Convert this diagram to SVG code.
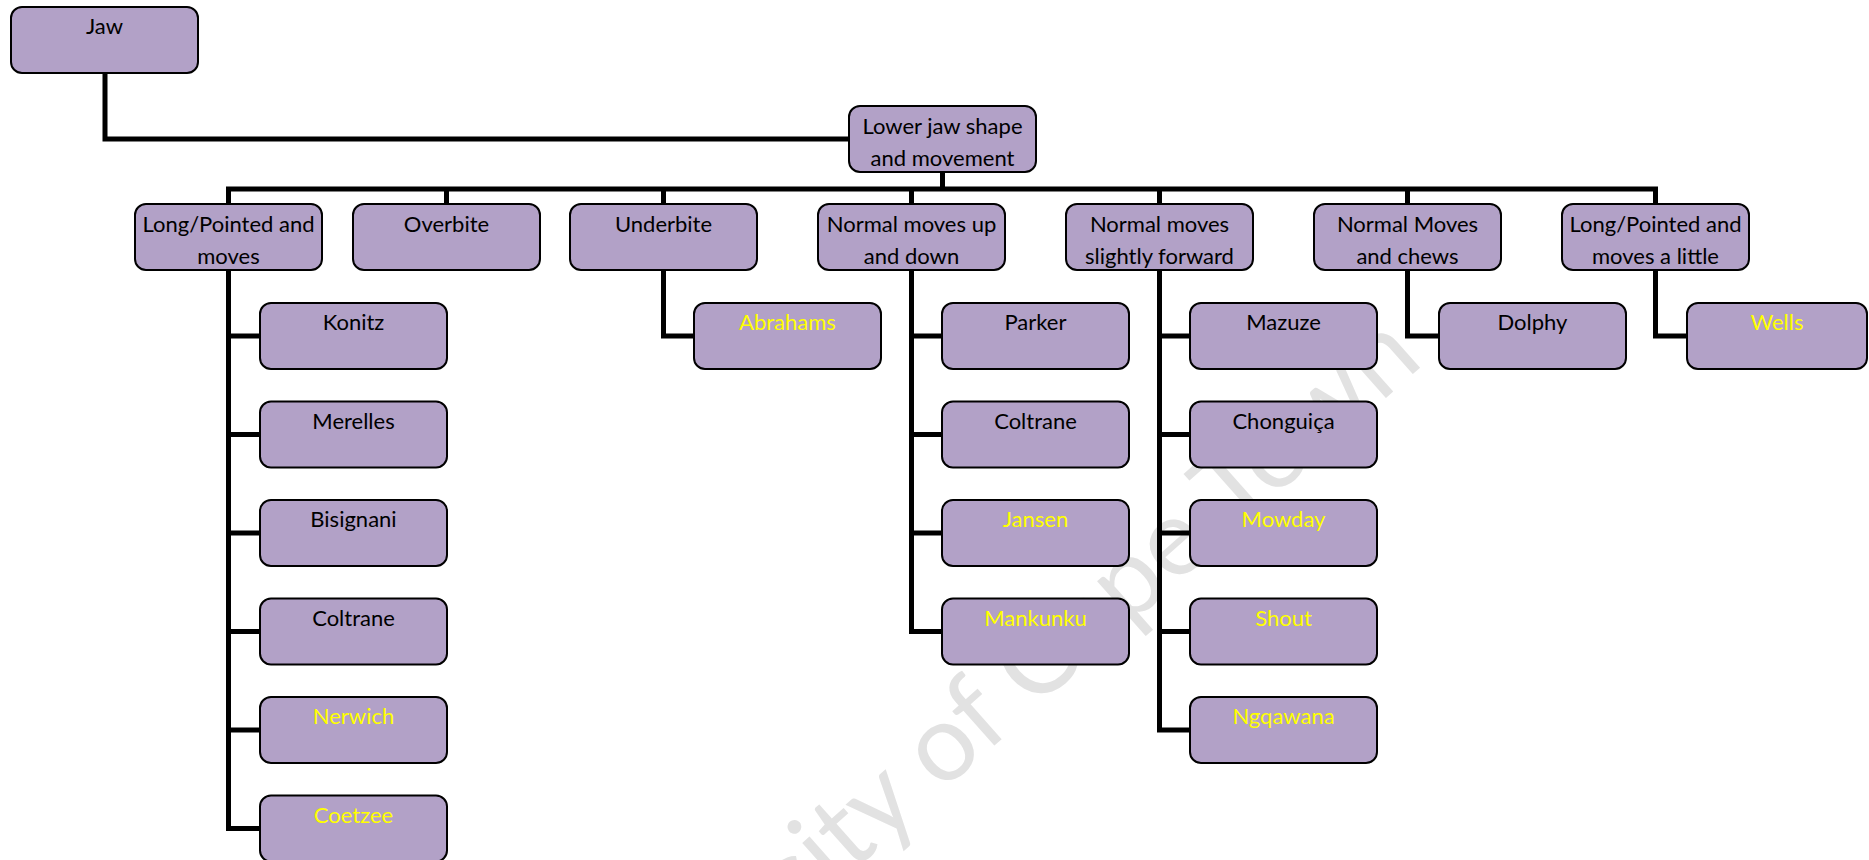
<svg xmlns="http://www.w3.org/2000/svg" width="1869" height="860" viewBox="0 0 1869 860">
<style>
.box{fill:#b2a1c7;stroke:#000;stroke-width:2}
.t{font-family:Lato,"Open Sans","Liberation Sans",sans-serif;font-size:22px;text-anchor:middle;fill:#000}
.y{fill:#ffff00}
.c{stroke:#000;stroke-width:5;fill:none;stroke-linejoin:miter}
.wm{font-family:Lato,"Open Sans",sans-serif;font-size:108px;fill:#e2e2e2;text-anchor:middle}
</style>
<defs>
<clipPath id="row1"><rect x="0" y="205" width="1869" height="64"/></clipPath>
</defs>
<rect width="1869" height="860" fill="#fff"/>
<text class="wm" transform="rotate(-41.6 994 746)" x="994" y="746">University of Cape Town</text>
<g id="connectors">
<path class="c" d="M105 73 V139 H849"/>
<path class="c" d="M942.5 172 V189"/>
<path class="c" d="M228.5 204 V189 H1655.5 V204"/>
<path class="c" d="M446.5 189 V204 M663.5 189 V204 M911.5 189 V204 M1159.5 189 V204 M1407.5 189 V204"/>
<path class="c" d="M228.5 270 V828.5 H260 M228.5 336 H260 M228.5 434.5 H260 M228.5 533 H260 M228.5 631.5 H260 M228.5 730 H260"/>
<path class="c" d="M663.5 270 V336 H694"/>
<path class="c" d="M911.5 270 V631.5 H942 M911.5 336 H942 M911.5 434.5 H942 M911.5 533 H942"/>
<path class="c" d="M1159.5 270 V730 H1190 M1159.5 336 H1190 M1159.5 434.5 H1190 M1159.5 533 H1190 M1159.5 631.5 H1190"/>
<path class="c" d="M1407.5 270 V336 H1439"/>
<path class="c" d="M1655.5 270 V336 H1687"/>
</g>
<g id="n-jaw"><rect class="box" x="11" y="7" width="187" height="66" rx="11"/><text class="t" x="104.5" y="34">Jaw</text></g>
<g id="n-lower"><rect class="box" x="849" y="106" width="187" height="66" rx="11"/><text class="t" x="942.5" y="134">Lower jaw shape</text><text class="t" x="942.5" y="166">and movement</text></g>
<g id="n-lp1"><rect class="box" x="135" y="204" width="187" height="66" rx="11"/><g clip-path="url(#row1)"><text class="t" x="228.5" y="232">Long/Pointed and</text><text class="t" x="228.5" y="264">moves</text></g></g>
<g id="n-overbite"><rect class="box" x="353" y="204" width="187" height="66" rx="11"/><text class="t" x="446.5" y="232">Overbite</text></g>
<g id="n-underbite"><rect class="box" x="570" y="204" width="187" height="66" rx="11"/><text class="t" x="663.5" y="232">Underbite</text></g>
<g id="n-updown"><rect class="box" x="818" y="204" width="187" height="66" rx="11"/><g clip-path="url(#row1)"><text class="t" x="911.5" y="232">Normal moves up</text><text class="t" x="911.5" y="264">and down</text></g></g>
<g id="n-forward"><rect class="box" x="1066" y="204" width="187" height="66" rx="11"/><g clip-path="url(#row1)"><text class="t" x="1159.5" y="232">Normal moves</text><text class="t" x="1159.5" y="264">slightly forward</text></g></g>
<g id="n-chews"><rect class="box" x="1314" y="204" width="187" height="66" rx="11"/><g clip-path="url(#row1)"><text class="t" x="1407.5" y="232">Normal Moves</text><text class="t" x="1407.5" y="264">and chews</text></g></g>
<g id="n-lp2"><rect class="box" x="1562" y="204" width="187" height="66" rx="11"/><g clip-path="url(#row1)"><text class="t" x="1655.5" y="232">Long/Pointed and</text><text class="t" x="1655.5" y="264">moves a little</text></g></g>
<g id="n-konitz"><rect class="box" x="260" y="303" width="187" height="66" rx="11"/><text class="t" x="353.5" y="330">Konitz</text></g>
<g id="n-merelles"><rect class="box" x="260" y="401.5" width="187" height="66" rx="11"/><text class="t" x="353.5" y="428.5">Merelles</text></g>
<g id="n-bisignani"><rect class="box" x="260" y="500" width="187" height="66" rx="11"/><text class="t" x="353.5" y="527">Bisignani</text></g>
<g id="n-coltrane1"><rect class="box" x="260" y="598.5" width="187" height="66" rx="11"/><text class="t" x="353.5" y="625.5">Coltrane</text></g>
<g id="n-nerwich"><rect class="box" x="260" y="697" width="187" height="66" rx="11"/><text class="t y" x="353.5" y="724">Nerwich</text></g>
<g id="n-coetzee"><rect class="box" x="260" y="795.5" width="187" height="66" rx="11"/><text class="t y" x="353.5" y="822.5">Coetzee</text></g>
<g id="n-abrahams"><rect class="box" x="694" y="303" width="187" height="66" rx="11"/><text class="t y" x="787.5" y="330">Abrahams</text></g>
<g id="n-parker"><rect class="box" x="942" y="303" width="187" height="66" rx="11"/><text class="t" x="1035.5" y="330">Parker</text></g>
<g id="n-coltrane2"><rect class="box" x="942" y="401.5" width="187" height="66" rx="11"/><text class="t" x="1035.5" y="428.5">Coltrane</text></g>
<g id="n-jansen"><rect class="box" x="942" y="500" width="187" height="66" rx="11"/><text class="t y" x="1035.5" y="527">Jansen</text></g>
<g id="n-mankunku"><rect class="box" x="942" y="598.5" width="187" height="66" rx="11"/><text class="t y" x="1035.5" y="625.5">Mankunku</text></g>
<g id="n-mazuze"><rect class="box" x="1190" y="303" width="187" height="66" rx="11"/><text class="t" x="1283.5" y="330">Mazuze</text></g>
<g id="n-chonguica"><rect class="box" x="1190" y="401.5" width="187" height="66" rx="11"/><text class="t" x="1283.5" y="428.5">Chonguiça</text></g>
<g id="n-mowday"><rect class="box" x="1190" y="500" width="187" height="66" rx="11"/><text class="t y" x="1283.5" y="527">Mowday</text></g>
<g id="n-shout"><rect class="box" x="1190" y="598.5" width="187" height="66" rx="11"/><text class="t y" x="1283.5" y="625.5">Shout</text></g>
<g id="n-ngqawana"><rect class="box" x="1190" y="697" width="187" height="66" rx="11"/><text class="t y" x="1283.5" y="724">Ngqawana</text></g>
<g id="n-dolphy"><rect class="box" x="1439" y="303" width="187" height="66" rx="11"/><text class="t" x="1532.5" y="330">Dolphy</text></g>
<g id="n-wells"><rect class="box" x="1687" y="303" width="180" height="66" rx="11"/><text class="t y" x="1777" y="330">Wells</text></g>
</svg>
